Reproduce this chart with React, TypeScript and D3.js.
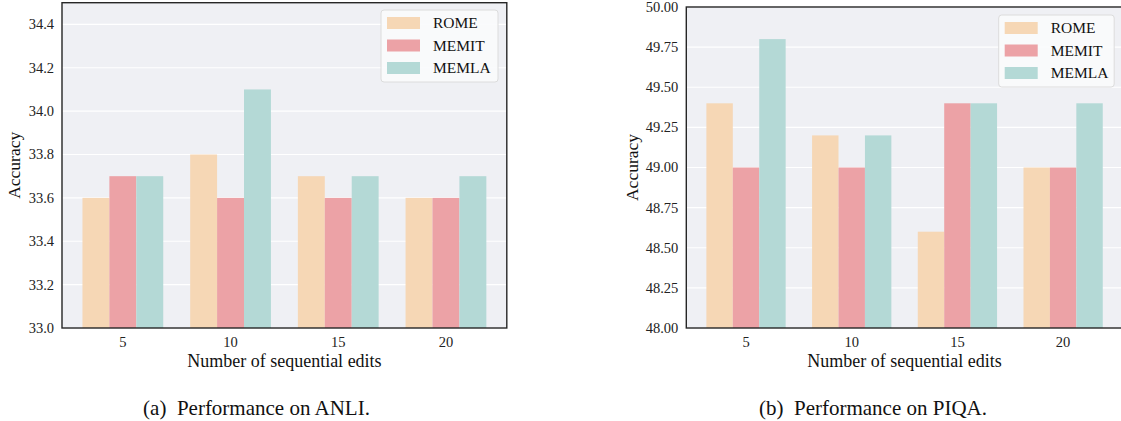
import React from "react";
import * as d3 from "d3";

const categories = ["5", "10", "15", "20"];
const seriesNames = ["ROME", "MEMIT", "MEMLA"];
const colors = ["#f6d7b5", "#eca2a6", "#b4d9d6"];

const anliRome = [33.6, 33.8, 33.7, 33.6];
const anliMemit = [33.7, 33.6, 33.6, 33.6];
const anliMemla = [33.7, 34.1, 33.7, 33.7];
const anliTicks = [33.0, 33.2, 33.4, 33.6, 33.8, 34.0, 34.2, 34.4];

const piqaRome = [49.4, 49.2, 48.6, 49.0];
const piqaMemit = [49.0, 49.0, 49.4, 49.0];
const piqaMemla = [49.8, 49.2, 49.4, 49.4];
const piqaTicks = [48.0, 48.25, 48.5, 48.75, 49.0, 49.25, 49.5, 49.75, 50.0];

const FONT = "Liberation Serif, Times New Roman, Times, serif";

type PanelProps = {
  left: number;
  top: number;
  bottom: number;
  spacing: number;
  yDomain: [number, number];
  ticks: number[];
  tickFmt: (v: number) => string;
  series: number[][];
  caption: string;
  captionX: number;
  yLabelX: number;
  legendX: number;
  legendY: number;
  legendW: number;
};

function Panel(p: PanelProps) {
  const pad = 0.565;
  const right = p.left + p.spacing * (3 + 2 * pad);
  const x = d3.scaleLinear().domain([-pad, 3 + pad]).range([p.left, right]);
  const y = d3.scaleLinear().domain(p.yDomain).range([p.bottom, p.top]);
  const bw = p.spacing * 0.25;
  const midX = (p.left + right) / 2;
  return (
    <g style={{ fontFamily: FONT }}>
      <rect x={p.left} y={p.top} width={right - p.left} height={p.bottom - p.top} fill="#eff0f4" />
      {p.ticks.map((t) => (
        <line key={"g" + t} x1={p.left} x2={right} y1={y(t)} y2={y(t)} stroke="#ffffff" strokeWidth={1.2} />
      ))}
      {p.series.map((vals, si) =>
        vals.map((v, ci) => (
          <rect
            key={si + "-" + ci}
            x={x(ci) + (si - 1.5) * bw}
            y={y(v)}
            width={bw}
            height={y(p.yDomain[0]) - y(v)}
            fill={colors[si]}
          />
        ))
      )}
      <rect x={p.left} y={p.top} width={right - p.left} height={p.bottom - p.top} fill="none" stroke="#262626" strokeWidth={1.4} />
      {p.ticks.map((t) => (
        <text key={"t" + t} x={p.left - 8} y={y(t)} dy="0.34em" textAnchor="end" fontSize={14.5} fill="#222">
          {p.tickFmt(t)}
        </text>
      ))}
      {categories.map((c, i) => (
        <text key={"c" + c} x={x(i)} y={347} textAnchor="middle" fontSize={14.5} fill="#222">
          {c}
        </text>
      ))}
      <text x={midX} y={367} textAnchor="middle" fontSize={18} fill="#111">
        Number of sequential edits
      </text>
      <text
        transform={`translate(${p.yLabelX},${(p.top + p.bottom) / 2}) rotate(-90)`}
        textAnchor="middle"
        dy="0.35em"
        fontSize={17.5}
        fill="#111"
      >
        Accuracy
      </text>
      <text x={p.captionX} y={415} textAnchor="middle" fontSize={21} fill="#111" style={{ whiteSpace: "pre" }}>
        {p.caption}
      </text>
      <g transform={`translate(${p.legendX},${p.legendY})`}>
        <rect x={0} y={0} width={p.legendW} height={72} rx={3} fill="#fafbfc" fillOpacity={0.9} stroke="#dcdcdc" strokeWidth={1} />
        {seriesNames.map((s, i) => (
          <g key={s} transform={`translate(0,${13 + i * 22.5})`}>
            <rect x={6} y={-6} width={33} height={12} fill={colors[i]} />
            <text x={52} y={0} dy="0.35em" fontSize={15.5} fill="#111">
              {s}
            </text>
          </g>
        ))}
      </g>
    </g>
  );
}

export default function App() {
  return (
    <svg
      width={1121}
      height={421}
      style={{ position: "absolute", left: 0, top: 0, background: "#fff" }}
    >
      <rect width={1121} height={421} fill="#fff" />
      <Panel
        left={62}
        top={2.7}
        bottom={328}
        spacing={107.7}
        yDomain={[33.0, 34.5]}
        ticks={anliTicks}
        tickFmt={(v) => v.toFixed(1)}
        series={[anliRome, anliMemit, anliMemla]}
        caption="(a)  Performance on ANLI."
        captionX={256.5}
        yLabelX={14}
        legendX={381}
        legendY={10}
        legendW={117}
      />
      <Panel
        left={686.3}
        top={7}
        bottom={328}
        spacing={105.7}
        yDomain={[48.0, 50.0]}
        ticks={piqaTicks}
        tickFmt={(v) => v.toFixed(2)}
        series={[piqaRome, piqaMemit, piqaMemla]}
        caption="(b)  Performance on PIQA."
        captionX={873}
        yLabelX={632}
        legendX={998.7}
        legendY={15}
        legendW={115.5}
      />
    </svg>
  );
}
